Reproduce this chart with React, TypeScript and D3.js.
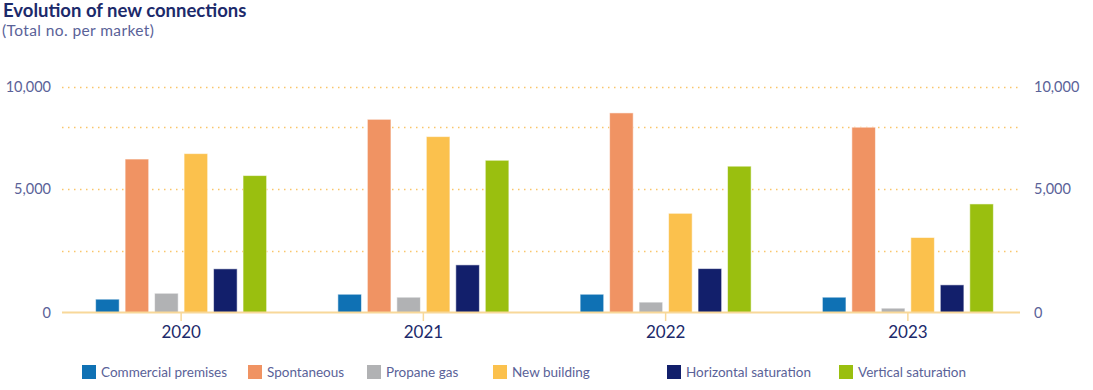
import { useEffect, useRef } from 'react';
import * as d3 from 'd3';

const years = ['2020', '2021', '2022', '2023'];
const seriesNames = [
  'Commercial premises',
  'Spontaneous',
  'Propane gas',
  'New building',
  'Horizontal saturation',
  'Vertical saturation',
];
const commercial = [540, 740, 740, 620];
const spontaneous = [6220, 7830, 8090, 7510];
const propane = [780, 620, 420, 175];
const newBuilding = [6440, 7130, 4020, 3040];
const horizontal = [1770, 1930, 1780, 1120];
const vertical = [5550, 6170, 5930, 4400];
const gridValues = [2500, 5000, 7500, 9140];
const tickValues = [0, 5000, 9140];
const tickLabels = ['0', '5,000', '10,000'];

const colors = ['#0f71b4', '#f09363', '#b1b2b4', '#fbc14d', '#121f6b', '#9abf0f'];
const legendX = [82, 248, 367, 493, 667, 839];

export default function App() {
  const svgRef = useRef<SVGSVGElement>(null);

  useEffect(() => {
    if (!svgRef.current) return;
    const svg = d3.select(svgRef.current);
    svg.selectAll('*').remove();

    const font = 'Lato, "Open Sans", sans-serif';
    const textColor = '#5a6298';
    const navy = '#1c2a6b';
    const values = [commercial, spontaneous, propane, newBuilding, horizontal, vertical];

    const y = d3.scaleLinear().domain([0, 9140]).range([312.5, 87]);
    const x0 = d3.scaleBand().domain(years).range([60, 1029]).padding(0);
    const x1 = d3
      .scaleBand()
      .domain(seriesNames)
      .range([-85.5, 85.5])
      .paddingInner(0.2)
      .paddingOuter(0);

    // Title
    svg.append('text')
      .attr('x', 3)
      .attr('y', 17)
      .attr('font-family', font)
      .attr('font-size', '18.5px')
      .attr('font-weight', 'bold')
      .attr('fill', navy)
      .text('Evolution of new connections');

    svg.append('text')
      .attr('x', 2)
      .attr('y', 36)
      .attr('font-family', font)
      .attr('font-size', '15.5px')
      .attr('letter-spacing', '0.4px')
      .attr('fill', textColor)
      .text('(Total no. per market)');

    // Gridlines
    svg.append('g')
      .selectAll('line')
      .data(gridValues)
      .join('line')
      .attr('x1', 62)
      .attr('x2', 1019)
      .attr('y1', (d) => Math.round(y(d)) + 0.5)
      .attr('y2', (d) => Math.round(y(d)) + 0.5)
      .attr('stroke', '#f9c56a')
      .attr('stroke-width', 1.3)
      .attr('stroke-dasharray', '1.5,4.5');

    // Axis labels left and right
    svg.append('g')
      .selectAll('text')
      .data(tickValues)
      .join('text')
      .attr('x', 51)
      .attr('y', (d) => y(d) + 5)
      .attr('text-anchor', 'end')
      .attr('font-family', font)
      .attr('font-size', '14.5px')
      .attr('fill', textColor)
      .text((_, i) => tickLabels[i]);

    svg.append('g')
      .selectAll('text')
      .data(tickValues)
      .join('text')
      .attr('x', 1034)
      .attr('y', (d) => y(d) + 5)
      .attr('text-anchor', 'start')
      .attr('font-family', font)
      .attr('font-size', '14.5px')
      .attr('fill', textColor)
      .text((_, i) => tickLabels[i]);

    // Bars
    const groups = svg.append('g')
      .selectAll('g')
      .data(years)
      .join('g')
      .attr('transform', (d) => `translate(${x0(d)! + x0.bandwidth() / 2},0)`);

    groups.selectAll('rect')
      .data((_, i) => seriesNames.map((name, s) => ({ name, s, v: values[s][i] })))
      .join('rect')
      .attr('x', (d) => x1(d.name)!)
      .attr('y', (d) => y(d.v))
      .attr('width', x1.bandwidth())
      .attr('height', (d) => y(0) - y(d.v))
      .attr('fill', (d) => colors[d.s])
      .attr('stroke', 'rgba(255,255,255,0.55)')
      .attr('stroke-width', 1);

    // Baseline
    svg.append('line')
      .attr('x1', 62)
      .attr('x2', 1020)
      .attr('y1', y(0))
      .attr('y2', y(0))
      .attr('stroke', '#f8d899')
      .attr('stroke-width', 2);

    // Category ticks and labels
    groups.append('line')
      .attr('x1', 0)
      .attr('x2', 0)
      .attr('y1', y(0))
      .attr('y2', 321)
      .attr('stroke', '#f8d899')
      .attr('stroke-width', 1.5);

    groups.append('text')
      .attr('y', 338)
      .attr('text-anchor', 'middle')
      .attr('font-family', font)
      .attr('font-size', '17px')
      .attr('fill', navy)
      .text((d) => d);

    // Legend
    const legend = svg.append('g')
      .selectAll('g')
      .data(seriesNames)
      .join('g')
      .attr('transform', (_, i) => `translate(${legendX[i]},365)`);

    legend.append('rect')
      .attr('width', 14)
      .attr('height', 14)
      .attr('fill', (_, i) => colors[i]);

    legend.append('text')
      .attr('x', 19)
      .attr('y', 12)
      .attr('font-family', font)
      .attr('font-size', '13.5px')
      .attr('fill', textColor)
      .text((d) => d);
  }, []);

  return (
    <div>
      <svg ref={svgRef} width={1093} height={390} style={{ position: 'absolute', left: 0, top: 0 }} />
    </div>
  );
}
